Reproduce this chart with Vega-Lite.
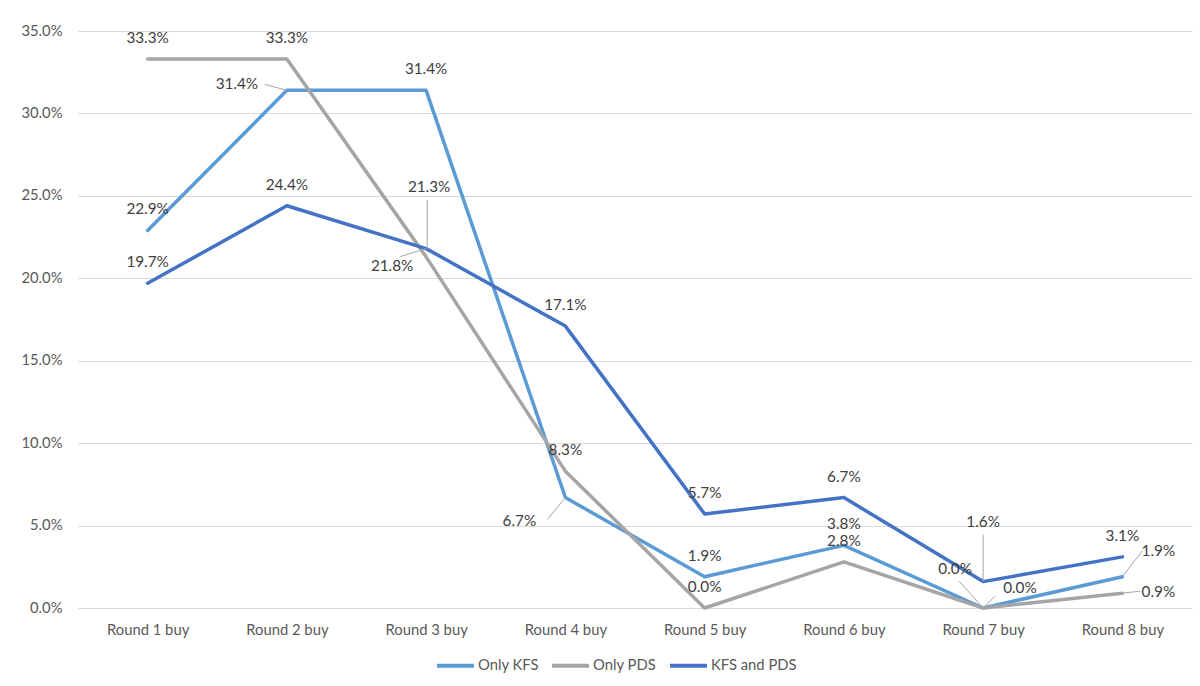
{
  "$schema": "https://vega.github.io/schema/vega-lite/v6.json",
  "width": 1114,
  "height": 577,
  "autosize": {"type": "none"},
  "padding": {"left": 78, "top": 31, "right": 8, "bottom": 78},
  "background": "white",
  "config": {
    "view": {"stroke": null},
    "font": "Lato",
    "axis": {"labelFont": "Lato", "labelColor": "#595959", "labelFontSize": 14.8, "title": null, "ticks": false, "domain": false},
    "legend": {"labelFont": "Lato", "labelColor": "#595959", "labelFontSize": 14.8}
  },
  "data": {
    "values": [
      {"round": "Round 1 buy", "series": "Only KFS", "value": 0.229},
      {"round": "Round 2 buy", "series": "Only KFS", "value": 0.314},
      {"round": "Round 3 buy", "series": "Only KFS", "value": 0.314},
      {"round": "Round 4 buy", "series": "Only KFS", "value": 0.067},
      {"round": "Round 5 buy", "series": "Only KFS", "value": 0.019},
      {"round": "Round 6 buy", "series": "Only KFS", "value": 0.038},
      {"round": "Round 7 buy", "series": "Only KFS", "value": 0.0},
      {"round": "Round 8 buy", "series": "Only KFS", "value": 0.019},
      {"round": "Round 1 buy", "series": "Only PDS", "value": 0.333},
      {"round": "Round 2 buy", "series": "Only PDS", "value": 0.333},
      {"round": "Round 3 buy", "series": "Only PDS", "value": 0.213},
      {"round": "Round 4 buy", "series": "Only PDS", "value": 0.083},
      {"round": "Round 5 buy", "series": "Only PDS", "value": 0.0},
      {"round": "Round 6 buy", "series": "Only PDS", "value": 0.028},
      {"round": "Round 7 buy", "series": "Only PDS", "value": 0.0},
      {"round": "Round 8 buy", "series": "Only PDS", "value": 0.009},
      {"round": "Round 1 buy", "series": "KFS and PDS", "value": 0.197},
      {"round": "Round 2 buy", "series": "KFS and PDS", "value": 0.244},
      {"round": "Round 3 buy", "series": "KFS and PDS", "value": 0.218},
      {"round": "Round 4 buy", "series": "KFS and PDS", "value": 0.171},
      {"round": "Round 5 buy", "series": "KFS and PDS", "value": 0.057},
      {"round": "Round 6 buy", "series": "KFS and PDS", "value": 0.067},
      {"round": "Round 7 buy", "series": "KFS and PDS", "value": 0.016},
      {"round": "Round 8 buy", "series": "KFS and PDS", "value": 0.031}
    ]
  },
  "encoding": {
    "x": {"field": "round", "type": "ordinal", "scale": {"type": "point", "padding": 0.5},
          "axis": {"labelAngle": 0, "labelPadding": 14, "grid": false}},
    "y": {"field": "value", "type": "quantitative", "scale": {"domain": [0, 0.35], "nice": false, "zero": true},
          "axis": {"format": ".1%", "values": [0, 0.05, 0.1, 0.15, 0.2, 0.25, 0.3, 0.35], "grid": true, "gridColor": "#D9D9D9", "gridWidth": 1, "labelPadding": 16}}
  },
  "layer": [
    {
      "mark": {"type": "line", "strokeWidth": 3.5, "strokeCap": "round", "strokeJoin": "round"},
      "encoding": {
        "color": {"field": "series", "type": "nominal",
          "scale": {"domain": ["Only KFS", "Only PDS", "KFS and PDS"], "range": ["#5B9BD5", "#A5A5A5", "#4472C4"]},
          "legend": {"title": null, "orient": "none", "direction": "horizontal", "legendX": 357, "legendY": 614,
                     "symbolType": "stroke", "symbolSize": 1369, "symbolStrokeWidth": 4, "labelOffset": 2, "columnPadding": 5}}
      }
    },
    {
      "transform": [{"filter": "indexof(['KFS and PDS|Round 3 buy','KFS and PDS|Round 7 buy','Only KFS|Round 2 buy','Only KFS|Round 4 buy','Only KFS|Round 7 buy','Only KFS|Round 8 buy','Only PDS|Round 3 buy','Only PDS|Round 7 buy','Only PDS|Round 8 buy'], datum.series + '|' + datum.round) < 0"}],
      "mark": {"type": "text", "dy": -21, "fontSize": 15.3, "color": "#404040"},
      "encoding": {"text": {"field": "value", "format": ".1%"}}
    },
    {
      "transform": [{"filter": "datum.series == 'KFS and PDS' && datum.round == 'Round 3 buy'"}],
      "layer": [
        {"mark": {"type": "rule", "color": "#A6A6A6", "strokeWidth": 1, "x2Offset": -26, "y2Offset": 8},
         "encoding": {"x2": {"field": "round"}, "y2": {"field": "value"}}},
        {"mark": {"type": "text", "dx": -34, "dy": 17, "fontSize": 15.3, "color": "#404040"},
         "encoding": {"text": {"field": "value", "format": ".1%"}}}
      ]
    },
    {
      "transform": [{"filter": "datum.series == 'KFS and PDS' && datum.round == 'Round 7 buy'"}],
      "layer": [
        {"mark": {"type": "rule", "color": "#A6A6A6", "strokeWidth": 1, "x2Offset": 0, "y2Offset": -47},
         "encoding": {"x2": {"field": "round"}, "y2": {"field": "value"}}},
        {"mark": {"type": "text", "dx": 0, "dy": -60, "fontSize": 15.3, "color": "#404040"},
         "encoding": {"text": {"field": "value", "format": ".1%"}}}
      ]
    },
    {
      "transform": [{"filter": "datum.series == 'Only KFS' && datum.round == 'Round 2 buy'"}],
      "layer": [
        {"mark": {"type": "rule", "color": "#A6A6A6", "strokeWidth": 1, "x2Offset": -22, "y2Offset": -6},
         "encoding": {"x2": {"field": "round"}, "y2": {"field": "value"}}},
        {"mark": {"type": "text", "dx": -50, "dy": -6, "fontSize": 15.3, "color": "#404040"},
         "encoding": {"text": {"field": "value", "format": ".1%"}}}
      ]
    },
    {
      "transform": [{"filter": "datum.series == 'Only KFS' && datum.round == 'Round 4 buy'"}],
      "layer": [
        {"mark": {"type": "rule", "color": "#A6A6A6", "strokeWidth": 1, "x2Offset": -18, "y2Offset": 22},
         "encoding": {"x2": {"field": "round"}, "y2": {"field": "value"}}},
        {"mark": {"type": "text", "dx": -46, "dy": 23, "fontSize": 15.3, "color": "#404040"},
         "encoding": {"text": {"field": "value", "format": ".1%"}}}
      ]
    },
    {
      "transform": [{"filter": "datum.series == 'Only KFS' && datum.round == 'Round 7 buy'"}],
      "layer": [
        {"mark": {"type": "rule", "color": "#A6A6A6", "strokeWidth": 1, "x2Offset": -24, "y2Offset": -27},
         "encoding": {"x2": {"field": "round"}, "y2": {"field": "value"}}},
        {"mark": {"type": "text", "dx": -28, "dy": -39, "fontSize": 15.3, "color": "#404040"},
         "encoding": {"text": {"field": "value", "format": ".1%"}}}
      ]
    },
    {
      "transform": [{"filter": "datum.series == 'Only KFS' && datum.round == 'Round 8 buy'"}],
      "layer": [
        {"mark": {"type": "rule", "color": "#A6A6A6", "strokeWidth": 1, "x2Offset": 20, "y2Offset": -26},
         "encoding": {"x2": {"field": "round"}, "y2": {"field": "value"}}},
        {"mark": {"type": "text", "dx": 36, "dy": -26, "fontSize": 15.3, "color": "#404040"},
         "encoding": {"text": {"field": "value", "format": ".1%"}}}
      ]
    },
    {
      "transform": [{"filter": "datum.series == 'Only PDS' && datum.round == 'Round 3 buy'"}],
      "layer": [
        {"mark": {"type": "rule", "color": "#A6A6A6", "strokeWidth": 1, "xOffset": 1, "x2Offset": 1, "yOffset": -8, "y2Offset": -57},
         "encoding": {"x2": {"field": "round"}, "y2": {"field": "value"}}},
        {"mark": {"type": "text", "dx": 3, "dy": -70, "fontSize": 15.3, "color": "#404040"},
         "encoding": {"text": {"field": "value", "format": ".1%"}}}
      ]
    },
    {
      "transform": [{"filter": "datum.series == 'Only PDS' && datum.round == 'Round 7 buy'"}],
      "layer": [
        {"mark": {"type": "rule", "color": "#A6A6A6", "strokeWidth": 1, "x2Offset": 12, "y2Offset": -12},
         "encoding": {"x2": {"field": "round"}, "y2": {"field": "value"}}},
        {"mark": {"type": "text", "dx": 20, "dy": -20, "fontSize": 15.3, "color": "#404040", "align": "left"},
         "encoding": {"text": {"field": "value", "format": ".1%"}}}
      ]
    },
    {
      "transform": [{"filter": "datum.series == 'Only PDS' && datum.round == 'Round 8 buy'"}],
      "layer": [
        {"mark": {"type": "rule", "color": "#A6A6A6", "strokeWidth": 1, "x2Offset": 18, "y2Offset": -2},
         "encoding": {"x2": {"field": "round"}, "y2": {"field": "value"}}},
        {"mark": {"type": "text", "dx": 36, "dy": -1, "fontSize": 15.3, "color": "#404040"},
         "encoding": {"text": {"field": "value", "format": ".1%"}}}
      ]
    }
  ]
}
